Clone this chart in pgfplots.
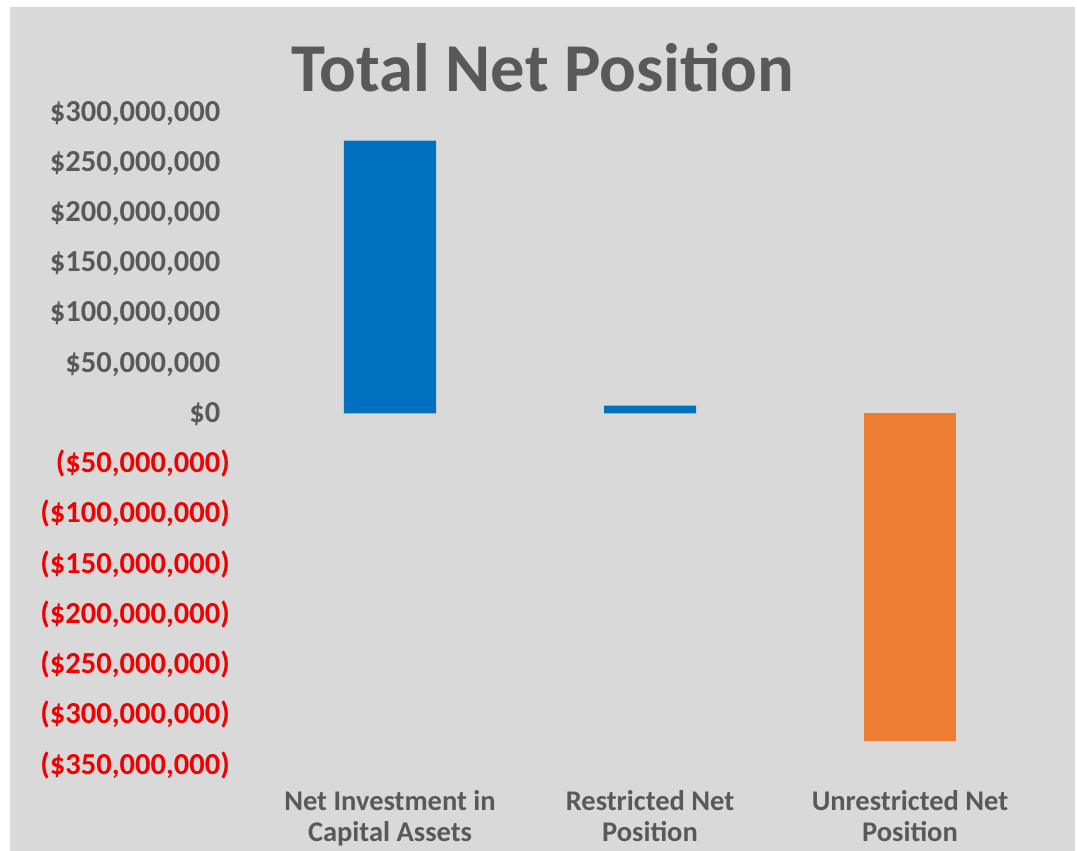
\documentclass[border=0pt]{standalone}
\usepackage{pgfplots}
\pgfplotsset{compat=1.18}
\usepackage{fontspec}
\setmainfont{Carlito}
\definecolor{bg}{HTML}{D9D9D9}
\definecolor{txt}{HTML}{595959}
\definecolor{negred}{HTML}{F00000}
\definecolor{barblue}{HTML}{0070C0}
\definecolor{barorange}{HTML}{ED7D31}
\newcommand{\ngl}[1]{\textcolor{negred}{(\$#1)}}
\newcommand{\psl}[1]{\$#1\phantom{)}}
\begin{document}
\begin{tikzpicture}[x=1pt,y=1pt]
\path[fill=white] (0,0) rectangle (1077,851);
\fill[bg] (10,0) rectangle (1075,844);
\node[text=txt, font=\fontsize{68.5}{72}\selectfont\bfseries] at (543,783) {Total Net Position};
\begin{axis}[
  at={(260pt,86pt)}, anchor=south west,
  width=780pt, height=653pt, scale only axis,
  xmin=-0.5, xmax=2.5,
  ymin=-350000000, ymax=300000000,
  scaled y ticks=false,
  axis line style={draw=none},
  tick style={draw=none},
  xtick={0,1,2},
  xticklabels={{Net Investment in\\Capital Assets},{Restricted Net\\Position},{Unrestricted Net\\Position}},
  xticklabel style={align=center, anchor=north, inner sep=0pt, yshift=-25pt, text=txt, font=\fontsize{28.5}{31}\selectfont\bfseries},
  ytick={-350000000,-300000000,-250000000,-200000000,-150000000,-100000000,-50000000,0,50000000,100000000,150000000,200000000,250000000,300000000},
  yticklabels={{\ngl{350,000,000}},{\ngl{300,000,000}},{\ngl{250,000,000}},{\ngl{200,000,000}},{\ngl{150,000,000}},{\ngl{100,000,000}},{\ngl{50,000,000}},{\psl{0}},{\psl{50,000,000}},{\psl{100,000,000}},{\psl{150,000,000}},{\psl{200,000,000}},{\psl{250,000,000}},{\psl{300,000,000}}},
  yticklabel style={anchor=east, inner sep=0pt, xshift=-30pt, text=txt, font=\fontsize{30.5}{32}\selectfont\bfseries},
  clip=false,
]
\addplot[ybar, bar shift=0pt, bar width=92pt, fill=barblue, draw=none] coordinates {(0,271600000) (1,7800000)};
\addplot[ybar, bar shift=0pt, bar width=92pt, fill=barorange, draw=none] coordinates {(2,-326000000)};
\end{axis}
\end{tikzpicture}
\end{document}
